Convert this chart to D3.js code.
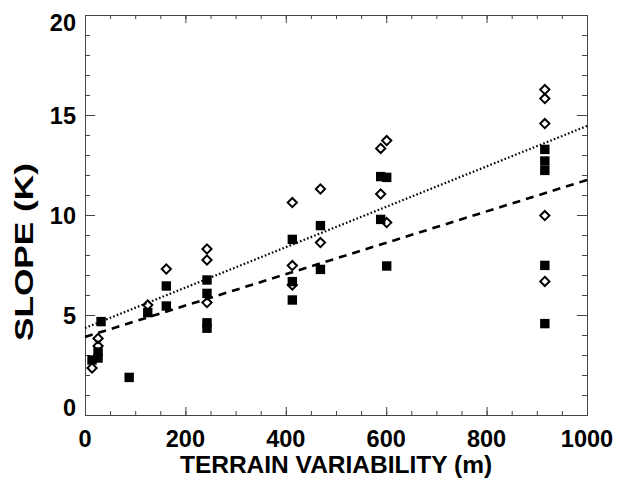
<!DOCTYPE html>
<html>
<head>
<meta charset="utf-8">
<script src="https://d3js.org/d3.v7.min.js"></script>
<style>
  body { margin: 0; background: #fff; }
  text { font-family: "Liberation Sans", Arial, Helvetica, sans-serif; font-weight: bold; fill: #000; }
</style>
</head>
<body>
<div id="chart"></div>
<script>
var svgWidth = 618;
var svgHeight = 478;

var margin = { top: 15, right: 31, bottom: 63, left: 85 };

var width = svgWidth - margin.left - margin.right;
var height = svgHeight - margin.top - margin.bottom;

// filled squares
var squareTerrain = [14, 26, 26, 32, 88, 125, 162, 162, 243, 243, 243, 243, 413, 413, 413, 469, 469, 589, 589, 601, 601, 916, 916, 916, 916, 916];
var squareSlope = [2.75, 3.15, 2.85, 4.67, 1.88, 5.12, 6.45, 5.45, 6.75, 6.08, 4.61, 4.34, 8.78, 6.67, 5.75, 9.47, 7.28, 11.92, 9.78, 11.88, 7.45, 13.28, 12.7, 12.23, 7.48, 4.57];

// open diamonds
var diamondTerrain = [14, 26, 26, 125, 162, 243, 243, 243, 413, 413, 413, 469, 469, 589, 589, 601, 601, 916, 916, 916, 916, 916];
var diamondSlope = [2.35, 3.83, 3.45, 5.5, 7.3, 8.3, 7.75, 5.62, 10.62, 7.47, 6.5, 11.3, 8.62, 13.33, 11.05, 13.72, 9.62, 16.27, 15.82, 14.57, 9.97, 6.68];

// fit lines, value at terrain 0 and 1000
var fitTerrain = [0, 1000];
var dottedFit = [4.35, 14.45];
var dashedFit = [3.9, 11.75];

var xTicks = [0, 200, 400, 600, 800, 1000];
var yTicks = [0, 5, 10, 15, 20];

var svg = d3.select("#chart")
  .append("svg")
  .attr("width", svgWidth)
  .attr("height", svgHeight);

var chartGroup = svg.append("g")
  .attr("transform", `translate(${margin.left}, ${margin.top})`);

var xScale = d3.scaleLinear().domain([0, 1000]).range([0, width]);
var yScale = d3.scaleLinear().domain([0, 20]).range([height, 0]);

var axisColor = "#444";

// box with ticks on all four sides (major + minor)
function drawTicks(axisFn, scale, values, len, transform) {
  chartGroup.append("g")
    .attr("transform", transform)
    .call(axisFn(scale).tickValues(values).tickSize(len).tickFormat(""))
    .call(g => g.select(".domain").attr("stroke", axisColor))
    .call(g => g.selectAll(".tick line").attr("stroke", axisColor));
}

var xMinor = d3.range(0, 1001, 50);
var yMinor = d3.range(0, 21, 1);

drawTicks(d3.axisTop, xScale, xMinor, 4, `translate(0, ${height})`);
drawTicks(d3.axisTop, xScale, xTicks, 8, `translate(0, ${height})`);
drawTicks(d3.axisBottom, xScale, xMinor, 4, "translate(0, 0)");
drawTicks(d3.axisBottom, xScale, xTicks, 8, "translate(0, 0)");
drawTicks(d3.axisRight, yScale, yMinor, 5, "translate(0, 0)");
drawTicks(d3.axisRight, yScale, yTicks, 10, "translate(0, 0)");
drawTicks(d3.axisLeft, yScale, yMinor, 5, `translate(${width}, 0)`);
drawTicks(d3.axisLeft, yScale, yTicks, 10, `translate(${width}, 0)`);

// tick labels
chartGroup.selectAll(".xlab")
  .data(xTicks)
  .enter()
  .append("text")
  .attr("class", "xlab")
  .attr("x", d => xScale(d))
  .attr("y", height + 32)
  .attr("text-anchor", "middle")
  .style("font-size", "23.5px")
  .text(d => d);

chartGroup.selectAll(".ylab")
  .data(yTicks)
  .enter()
  .append("text")
  .attr("class", "ylab")
  .attr("x", -9)
  .attr("y", d => Math.max(7, Math.min(height - 8, yScale(d))) + 8.5)
  .attr("text-anchor", "end")
  .style("font-size", "23.5px")
  .text(d => d);

// axis titles
chartGroup.append("text")
  .attr("x", width / 2)
  .attr("y", height + 58)
  .attr("text-anchor", "middle")
  .style("font-size", "24.5px")
  .text("TERRAIN VARIABILITY (m)");

chartGroup.append("text")
  .attr("transform", `translate(${33 - margin.left}, ${237}) rotate(-90)`)
  .attr("text-anchor", "middle")
  .attr("textLength", 178)
  .attr("lengthAdjust", "spacingAndGlyphs")
  .style("font-size", "26px")
  .text("SLOPE (K)");

// fit lines
var line = d3.line()
  .x(d => xScale(d[0]))
  .y(d => yScale(d[1]));

chartGroup.append("path")
  .datum(d3.zip(fitTerrain, dottedFit))
  .attr("d", line)
  .attr("fill", "none")
  .attr("stroke", "#000")
  .attr("stroke-width", 2.2)
  .attr("stroke-dasharray", "1.6,2.2");

chartGroup.append("path")
  .datum(d3.zip(fitTerrain, dashedFit))
  .attr("d", line)
  .attr("fill", "none")
  .attr("stroke", "#000")
  .attr("stroke-width", 2.6)
  .attr("stroke-dasharray", "8,6");

// diamonds
chartGroup.selectAll(".diamond")
  .data(d3.zip(diamondTerrain, diamondSlope))
  .enter()
  .append("path")
  .attr("class", "diamond")
  .attr("transform", d => `translate(${xScale(d[0])}, ${yScale(d[1])})`)
  .attr("d", "M0,-4.6L4.6,0L0,4.6L-4.6,0Z")
  .attr("fill", "none")
  .attr("stroke", "#000")
  .attr("stroke-width", 2);

// squares
chartGroup.selectAll(".square")
  .data(d3.zip(squareTerrain, squareSlope))
  .enter()
  .append("rect")
  .attr("class", "square")
  .attr("x", d => xScale(d[0]) - 4.7)
  .attr("y", d => yScale(d[1]) - 4.7)
  .attr("width", 9.4)
  .attr("height", 9.4)
  .attr("fill", "#000");
</script>
</body>
</html>
